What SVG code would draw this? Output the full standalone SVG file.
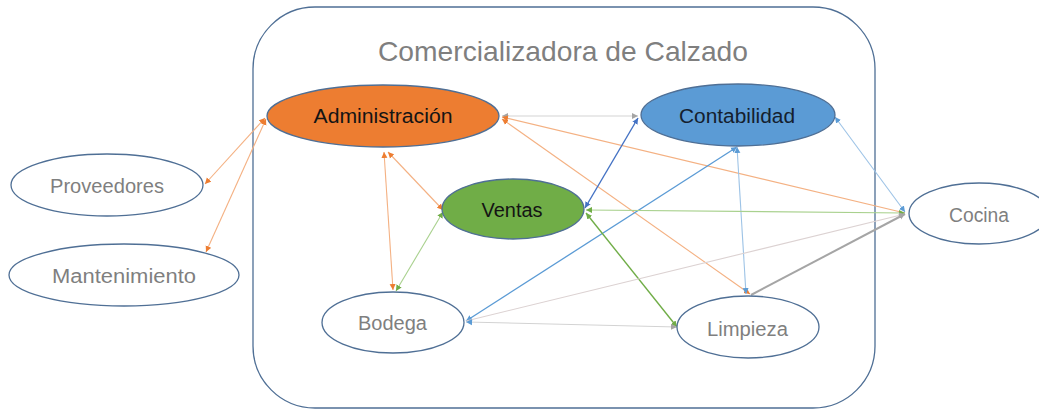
<svg xmlns="http://www.w3.org/2000/svg" width="1039" height="411" viewBox="0 0 1039 411">
<defs>
<style>
.frame{fill:#fff;stroke:#4f6f95;stroke-width:1.3}
.node{stroke:#4f6f95;stroke-width:1.3}
.white{fill:#fff}
.lbl{font-family:"Liberation Sans","Open Sans",sans-serif;text-anchor:middle}
.gray{fill:#7f7f7f}
.dark{fill:#141414}
.c{fill:none;stroke-width:1.1}
.or{stroke:#f4b183}
.gr{stroke:#d3d3d3}
.bl{stroke:#4472c4;stroke-width:1.4}
.bm{stroke:#5b9bd5;stroke-width:1.3}
.lb{stroke:#9dc3e6}
.gl{stroke:#a9d18e}
.gd{stroke:#70ad47;stroke-width:1.4}
.pk{stroke:#dcd2d2}
.gy{stroke:#a5a5a5;stroke-width:2}
</style>
<marker id="mor" markerUnits="userSpaceOnUse" markerWidth="7" markerHeight="7" refX="6" refY="3.5" orient="auto-start-reverse"><path d="M0,0.5 L6,3.5 L0,6.5 z" fill="#ed7d31"/></marker>
<marker id="mgr" markerUnits="userSpaceOnUse" markerWidth="7" markerHeight="7" refX="6" refY="3.5" orient="auto-start-reverse"><path d="M0,0.5 L6,3.5 L0,6.5 z" fill="#a5a5a5"/></marker>
<marker id="mbl" markerUnits="userSpaceOnUse" markerWidth="7" markerHeight="7" refX="6" refY="3.5" orient="auto-start-reverse"><path d="M0,0.5 L6,3.5 L0,6.5 z" fill="#4472c4"/></marker>
<marker id="mbm" markerUnits="userSpaceOnUse" markerWidth="7" markerHeight="7" refX="6" refY="3.5" orient="auto-start-reverse"><path d="M0,0.5 L6,3.5 L0,6.5 z" fill="#5b9bd5"/></marker>
<marker id="mgl" markerUnits="userSpaceOnUse" markerWidth="7" markerHeight="7" refX="6" refY="3.5" orient="auto-start-reverse"><path d="M0,0.5 L6,3.5 L0,6.5 z" fill="#70ad47"/></marker>
</defs>
<rect width="1039" height="411" fill="#fff"/>
<g id="frame">
<rect class="frame" x="253" y="7" width="622" height="401" rx="62" ry="62"/>
<text class="lbl gray" x="563" y="61" font-size="28" textLength="370" lengthAdjust="spacingAndGlyphs">Comercializadora de Calzado</text>
</g>
<g id="connectors">
<line class="c or" x1="265" y1="118" x2="205" y2="184" marker-start="url(#mor)" marker-end="url(#mor)"/>
<line class="c or" x1="266" y1="119" x2="206" y2="252" marker-start="url(#mor)" marker-end="url(#mor)"/>
<line class="c gr" x1="502" y1="116" x2="638" y2="116" marker-start="url(#mgr)" marker-end="url(#mgr)"/>
<line class="c or" x1="388" y1="152" x2="443" y2="210" marker-start="url(#mor)" marker-end="url(#mor)"/>
<line class="c or" x1="384" y1="152" x2="393" y2="290" marker-start="url(#mor)" marker-end="url(#mor)"/>
<line class="c or" x1="502" y1="117" x2="905" y2="213" marker-start="url(#mor)"/>
<line class="c or" x1="502" y1="119" x2="750" y2="294" marker-start="url(#mor)" marker-end="url(#mor)"/>
<line class="c bl" x1="638" y1="118" x2="585" y2="208" marker-start="url(#mbl)" marker-end="url(#mbl)"/>
<line class="c bm" x1="737" y1="147" x2="466" y2="321" marker-start="url(#mbm)" marker-end="url(#mbm)"/>
<line class="c lb" x1="737" y1="147" x2="746" y2="294" marker-start="url(#mbm)" marker-end="url(#mbm)"/>
<line class="c lb" x1="835" y1="117" x2="905" y2="212" marker-start="url(#mbm)" marker-end="url(#mbm)"/>
<line class="c gl" x1="586" y1="210" x2="905" y2="213" marker-start="url(#mgl)" marker-end="url(#mgl)"/>
<line class="c gd" x1="586" y1="213" x2="677" y2="327" marker-start="url(#mgl)" marker-end="url(#mgl)"/>
<line class="c gl" x1="443" y1="212" x2="396" y2="291" marker-start="url(#mgl)" marker-end="url(#mgl)"/>
<line class="c pk" x1="466" y1="321" x2="905" y2="214" marker-end="url(#mgr)"/>
<line class="c gr" x1="466" y1="322" x2="677" y2="327" marker-start="url(#mbm)" marker-end="url(#mgr)"/>
<line class="c gy" x1="751" y1="295" x2="905" y2="214" marker-end="url(#mgr)"/>
</g>
<g id="administracion">
<ellipse class="node" cx="383" cy="116" rx="116" ry="31" fill="#ed7d31"/>
<text class="lbl dark" x="383" y="123" font-size="20" textLength="139" lengthAdjust="spacingAndGlyphs">Administración</text>
</g>
<g id="contabilidad">
<ellipse class="node" cx="738" cy="115" rx="97" ry="31" fill="#5b9bd5"/>
<text class="lbl" fill="#14202e" x="737" y="123" font-size="20" textLength="116" lengthAdjust="spacingAndGlyphs">Contabilidad</text>
</g>
<g id="ventas">
<ellipse class="node" cx="513" cy="209" rx="71" ry="30" fill="#70ad47"/>
<text class="lbl dark" x="512" y="217" font-size="20" textLength="61" lengthAdjust="spacingAndGlyphs">Ventas</text>
</g>
<g id="cocina">
<ellipse class="node white" cx="979" cy="213.5" rx="70" ry="30.5"/>
<text class="lbl gray" x="979" y="222" font-size="20" textLength="60" lengthAdjust="spacingAndGlyphs">Cocina</text>
</g>
<g id="proveedores">
<ellipse class="node white" cx="107" cy="185" rx="96" ry="31"/>
<text class="lbl gray" x="107" y="193" font-size="20" textLength="114" lengthAdjust="spacingAndGlyphs">Proveedores</text>
</g>
<g id="mantenimiento">
<ellipse class="node white" cx="124" cy="275" rx="115" ry="31"/>
<text class="lbl gray" x="124" y="283" font-size="20" textLength="144" lengthAdjust="spacingAndGlyphs">Mantenimiento</text>
</g>
<g id="bodega">
<ellipse class="node white" cx="393" cy="322.5" rx="71" ry="30.5"/>
<text class="lbl gray" x="392.5" y="330" font-size="20" textLength="69" lengthAdjust="spacingAndGlyphs">Bodega</text>
</g>
<g id="limpieza">
<ellipse class="node white" cx="748" cy="327" rx="71" ry="31"/>
<text class="lbl gray" x="747.5" y="336" font-size="20" textLength="81" lengthAdjust="spacingAndGlyphs">Limpieza</text>
</g>
</svg>
